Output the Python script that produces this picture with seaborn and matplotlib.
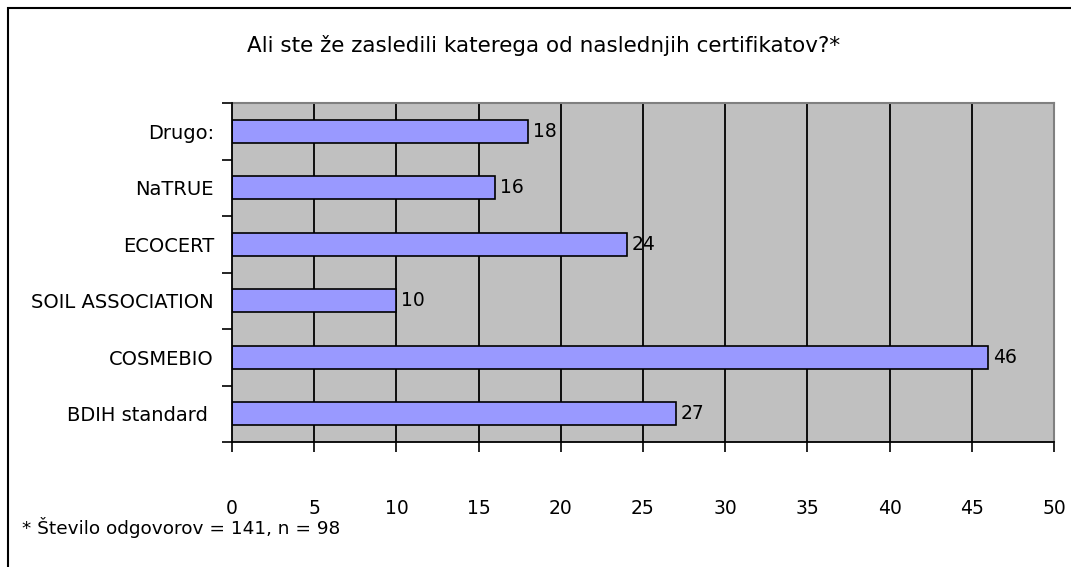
import matplotlib
matplotlib.use('Agg')
import matplotlib.pyplot as plt
import seaborn as sns
import pandas as pd
from matplotlib.patches import Rectangle

# data, top to bottom
categories = ['Drugo:', 'NaTRUE', 'ECOCERT', 'SOIL ASSOCIATION', 'COSMEBIO', 'BDIH standard ']
counts = [18, 16, 24, 10, 46, 27]
x_ticks = [0, 5, 10, 15, 20, 25, 30, 35, 40, 45, 50]

title = 'Ali ste že zasledili katerega od naslednjih certifikatov?*'
footnote = '* Število odgovorov = 141, n = 98'

sns.set_style('white')
plt.rcParams['font.family'] = ['DejaVu Sans']
plt.rcParams['text.color'] = 'black'

df = pd.DataFrame({'cert': categories, 'n': counts})

fig = plt.figure(figsize=(10.71, 5.67), dpi=100)
ax = fig.add_axes([232/1071, 1 - 442/567, (1054 - 232)/1071, (442 - 103)/567])

sns.barplot(data=df, y='cert', x='n', order=categories, orient='h',
            color='#9999FF', saturation=1, width=0.41,
            edgecolor='black', linewidth=1.2, ax=ax, zorder=3)

ax.set_facecolor('#C0C0C0')
ax.set_xlim(0, 50)
ax.set_ylim(len(categories) - 0.5, -0.5)
ax.set_xticks(x_ticks)
ax.set_xticklabels([str(t) for t in x_ticks], fontsize=13.5)
ax.tick_params(axis='x', bottom=True, length=7, width=1.2, direction='out', pad=34,
               colors='black', labelcolor='black')
ax.tick_params(axis='y', which='major', left=False, length=0, pad=13, labelsize=14,
               labelcolor='black')
ax.set_yticks([i - 0.5 for i in range(len(categories) + 1)], minor=True)
ax.tick_params(axis='y', which='minor', left=True, length=7, width=1.2, direction='out',
               color='black')
ax.set_xlabel('')
ax.set_ylabel('')

for xv in x_ticks[1:-1]:
    ax.axvline(xv, color='black', lw=1.3, zorder=1)

for side in ['top', 'right']:
    ax.spines[side].set_color('#808080')
    ax.spines[side].set_linewidth(1.5)
for side in ['left', 'bottom']:
    ax.spines[side].set_color('black')
    ax.spines[side].set_linewidth(1.3)
    ax.spines[side].set_zorder(4)

ax.bar_label(ax.containers[0], labels=[str(v) for v in counts], padding=3.5, fontsize=13.5,
             color='black')

fig.text(544/1071, 1 - 46/567, title, ha='center', va='center', fontsize=15.5)
fig.text(22/1071, 1 - 528/567, footnote, ha='left', va='center', fontsize=13.3)

# outer chart frame (only left and top edges visible in the crop)
fig.patches.append(Rectangle((8/1071, -0.1), 1.2, 1 - 8/567 + 0.1, transform=fig.transFigure,
                             fill=False, edgecolor='black', lw=1.5))

fig.savefig('out.png', dpi=100, facecolor='white')
